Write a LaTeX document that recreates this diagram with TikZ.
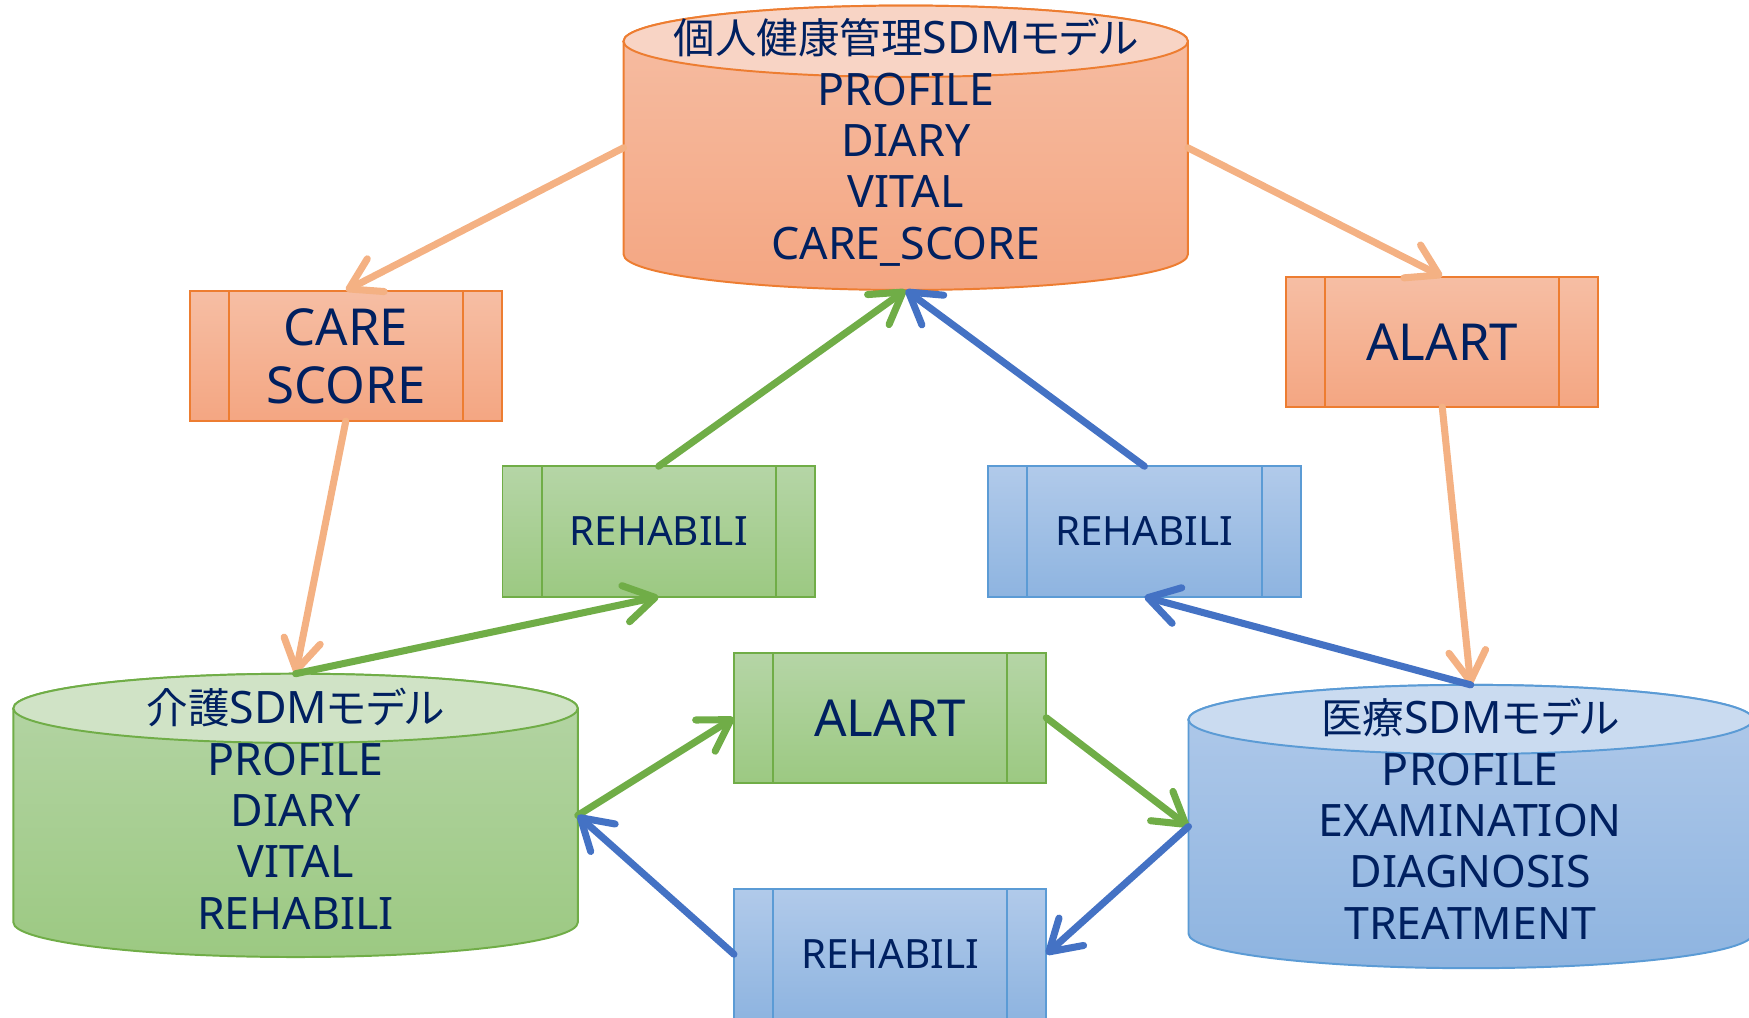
\documentclass[tikz,border=0pt]{standalone}
\usepackage{fontspec}
\setmainfont{Noto Sans}
\newfontfamily\cjk[RawFeature=+palt,Scale=0.93]{Noto Sans CJK JP}
\usetikzlibrary{arrows.meta,calc}
\definecolor{navy}{HTML}{002060}
\definecolor{orborder}{HTML}{ED7D31}
\definecolor{ortop}{HTML}{F6BEA4}
\definecolor{orbot}{HTML}{F4A682}
\definecolor{orend}{HTML}{F8D4C5}
\definecolor{grborder}{HTML}{70AD47}
\definecolor{grtop}{HTML}{B5D5A6}
\definecolor{grbot}{HTML}{9CC982}
\definecolor{grend}{HTML}{D0E3C6}
\definecolor{blborder}{HTML}{5B9BD5}
\definecolor{bltop}{HTML}{B1CAEA}
\definecolor{blbot}{HTML}{8EB4E0}
\definecolor{blend}{HTML}{CADBF0}
\definecolor{arrOr}{HTML}{F4B183}
\definecolor{arrGr}{HTML}{70AD47}
\definecolor{arrBl}{HTML}{4472C4}
\newcommand{\drawcyl}[7]{%
  \path[draw=#6, line width=0.5pt, top color=#3, bottom color=#4]
    ($(#1.north west)+(0,-#2)$) -- ($(#1.south west)+(0,#2)$)
    arc[start angle=180, end angle=360, x radius=#7, y radius=#2]
    -- ($(#1.north east)+(0,-#2)$)
    arc[start angle=0, end angle=180, x radius=#7, y radius=#2] -- cycle;
  \path[draw=#6, line width=0.5pt, fill=#5] ($(#1.north)+(0,-#2)$) ellipse[x radius=#7, y radius=#2];
}
\tikzset{
  cylbox/.style={rectangle, inner sep=0pt, outer sep=0pt},
  cyltext/.style={align=center, text=navy, font=\fontsize{11.4}{13.1}\selectfont, inner sep=0pt},
  procbox/.style={rectangle, draw=#1, line width=0.5pt, minimum width=28mm, minimum height=11.7mm,
    inner sep=0pt, outer sep=0pt, align=center, text=navy,
    path picture={
      \draw[#1, line width=0.5pt] ([xshift=3.5mm]path picture bounding box.north west) -- ([xshift=3.5mm]path picture bounding box.south west);
      \draw[#1, line width=0.5pt] ([xshift=-3.5mm]path picture bounding box.north east) -- ([xshift=-3.5mm]path picture bounding box.south east);
    }},
  bigtxt/.style={font=\fontsize{13}{14.8}\selectfont},
  smalltxt/.style={font=\fontsize{10.3}{12}\selectfont},
  conn/.style={line width=1.8pt, line cap=round, -{Straight Barb[length=2.7mm, width=3.3mm, round]}},
}
\begin{document}
\begin{tikzpicture}[x=0.1mm, y=0.1mm]
\useasboundingbox (0,0) rectangle (1568,-912);
\clip (0,0) rectangle (1568,-912);

% cylinders
\node[cylbox, minimum width=50.6mm, minimum height=25.5mm] (tc) at (812,-132.5) {};
\drawcyl{tc}{32}{ortop}{orbot}{orend}{orborder}{253}
\node[cyltext] (tct) at (812,-127.5) {{\cjk 個人健康管理}SDM{\cjk モデル}\\PROFILE\\DIARY\\VITAL\\CARE\_SCORE};

\node[cylbox, minimum width=50.6mm, minimum height=25.4mm] (gc) at (265,-731) {};
\drawcyl{gc}{31}{grtop}{grbot}{grend}{grborder}{253}
\node[cyltext] (gct) at (265,-725) {{\cjk 介護}SDM{\cjk モデル}\\PROFILE\\DIARY\\VITAL\\REHABILI};

\node[cylbox, minimum width=50.6mm, minimum height=25.4mm] (bc) at (1318.5,-741) {};
\drawcyl{bc}{31}{bltop}{blbot}{blend}{blborder}{253}
\node[cyltext] (bct) at (1318,-734) {{\cjk 医療}SDM{\cjk モデル}\\PROFILE\\EXAMINATION\\DIAGNOSIS\\TREATMENT};

% boxes
\node[procbox=orborder, top color=ortop, bottom color=orbot, bigtxt] (cs) at (310,-319) {CARE\\SCORE};
\node[procbox=orborder, top color=ortop, bottom color=orbot, bigtxt] (oa) at (1293,-306.5) {ALART};
\node[procbox=grborder, top color=grtop, bottom color=grbot, smalltxt] (gr) at (590.5,-476.5) {REHABILI};
\node[procbox=blborder, top color=bltop, bottom color=blbot, smalltxt] (br) at (1026,-476.5) {REHABILI};
\node[procbox=grborder, top color=grtop, bottom color=grbot, bigtxt] (ga) at (798,-643.5) {ALART};
\node[procbox=blborder, top color=bltop, bottom color=blbot, smalltxt] (bb) at (798,-855.5) {REHABILI};

% connectors
\draw[conn, arrOr] (tc.west) -- (cs.north);
\draw[conn, arrOr] (tc.east) -- (oa.north);
\draw[conn, arrOr] (cs.south) -- (gc.north);
\draw[conn, arrOr] (oa.south) -- (bc.north);
\draw[conn, arrGr] (gc.north) -- (gr.south);
\draw[conn, arrGr] (gr.north) -- (tc.south);
\draw[conn, arrBl] (br.north) -- (tc.south);
\draw[conn, arrBl] (bc.north) -- (br.south);
\draw[conn, arrGr] (gc.east) -- (ga.west);
\draw[conn, arrGr] (ga.east) -- (bc.west);
\draw[conn, arrBl] (bc.west) -- (bb.east);
\draw[conn, arrBl] (bb.west) -- (gc.east);
\end{tikzpicture}
\end{document}
